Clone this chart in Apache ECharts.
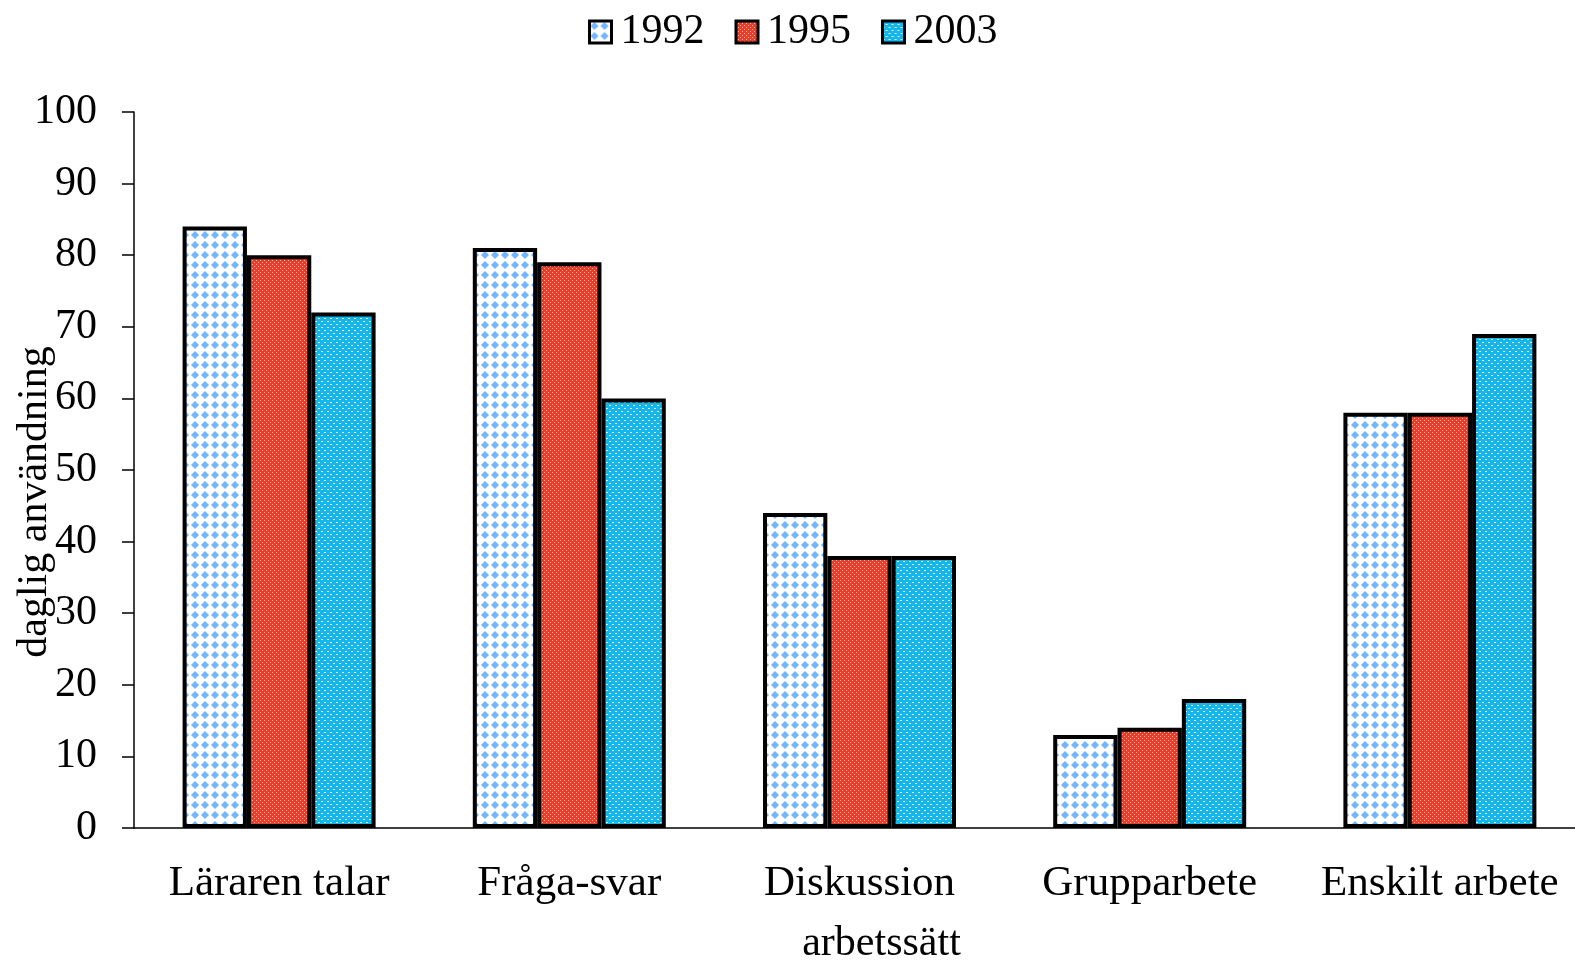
<!DOCTYPE html>
<html>
<head>
<meta charset="utf-8">
<script src="https://cdn.jsdelivr.net/npm/echarts@6/dist/echarts.min.js"></script>
<style>
  html, body { margin: 0; padding: 0; background: #fff; }
  #chart { width: 1575px; height: 960px; }
</style>
</head>
<body>
<div id="chart"></div>
<script>
var categories = ['Läraren talar', 'Fråga-svar', 'Diskussion', 'Grupparbete', 'Enskilt arbete'];
var years = ['1992', '1995', '2003'];
var values1992 = [84, 81, 44, 13, 58];
var values1995 = [80, 79, 38, 14, 58];
var values2003 = [72, 60, 38, 18, 69];
var yTicks = [0, 10, 20, 30, 40, 50, 60, 70, 80, 90, 100];

// fyllnadsmönster för staplarna
function makePattern(size, bg, draw) {
    var c = document.createElement('canvas');
    c.width = size;
    c.height = size;
    var ctx = c.getContext('2d');
    ctx.fillStyle = bg;
    ctx.fillRect(0, 0, size, size);
    draw(ctx);
    return c;
}

var pat1992 = makePattern(10, '#ffffff', function (ctx) {
    ctx.fillStyle = '#72b6ff';
    ctx.beginPath();
    ctx.moveTo(5, 1);
    ctx.lineTo(9, 5);
    ctx.lineTo(5, 9);
    ctx.lineTo(1, 5);
    ctx.closePath();
    ctx.fill();
});
var pat1995 = makePattern(4, '#ee3b27', function (ctx) {
    ctx.fillStyle = '#ffb4a6';
    ctx.fillRect(0, 0, 1, 1);
    ctx.fillRect(2, 2, 1, 1);
});
var pat2003 = makePattern(6, '#15b6ea', function (ctx) {
    ctx.fillStyle = '#e8f8ff';
    ctx.fillRect(0, 0, 2, 1);
    ctx.fillRect(3, 3, 2, 1);
});

var font = 'Liberation Serif';
var chart = echarts.init(document.getElementById('chart'));

function barSeries(name, data, pattern) {
    return {
        name: name,
        type: 'bar',
        data: data,
        barGap: '0%',
        barCategoryGap: '33.5%',
        itemStyle: {
            color: { image: pattern, repeat: 'repeat' },
            borderColor: '#000',
            borderWidth: 4
        }
    };
}

var option = {
    animation: false,
    legend: {
        top: 6,
        left: 583,
        data: years,
        icon: 'rect',
        itemWidth: 22,
        itemHeight: 22,
        itemGap: 30,
        itemStyle: { borderColor: '#000', borderWidth: 3 },
        textStyle: { fontFamily: font, fontSize: 42, color: '#000', padding: [0, 0, 0, 4] }
    },
    grid: { left: 134, right: -10, top: 112, bottom: 132, containLabel: false, outerBoundsMode: 'none' },
    xAxis: {
        type: 'category',
        data: categories,
        name: 'arbetssätt',
        nameLocation: 'middle',
        nameGap: 95,
        nameMoveOverlap: false,
        nameTextStyle: { fontFamily: font, fontSize: 42, color: '#000', padding: [0, 0, 0, 44] },
        axisLine: { lineStyle: { color: '#000', width: 1.5 } },
        axisTick: { interval: 0, length: 12, lineStyle: { color: '#000', width: 1.5 } },
        axisLabel: { interval: 0, margin: 34, fontFamily: font, fontSize: 43, color: '#000' }
    },
    yAxis: {
        type: 'value',
        min: yTicks[0],
        max: yTicks[yTicks.length - 1],
        interval: 10,
        name: 'daglig användning',
        nameLocation: 'middle',
        nameGap: 78,
        nameMoveOverlap: false,
        nameTextStyle: { fontFamily: font, fontSize: 42, color: '#000', padding: [0, 64, 0, 0] },
        splitLine: { show: false },
        axisLine: { show: true, lineStyle: { color: '#000', width: 1.5 } },
        axisTick: { show: true, length: 12, lineStyle: { color: '#000', width: 1.5 } },
        axisLabel: { margin: 37, fontFamily: font, fontSize: 42, color: '#000' }
    },
    series: [
        barSeries(years[0], values1992, pat1992),
        barSeries(years[1], values1995, pat1995),
        barSeries(years[2], values2003, pat2003)
    ]
};
chart.setOption(option);
</script>
</body>
</html>
